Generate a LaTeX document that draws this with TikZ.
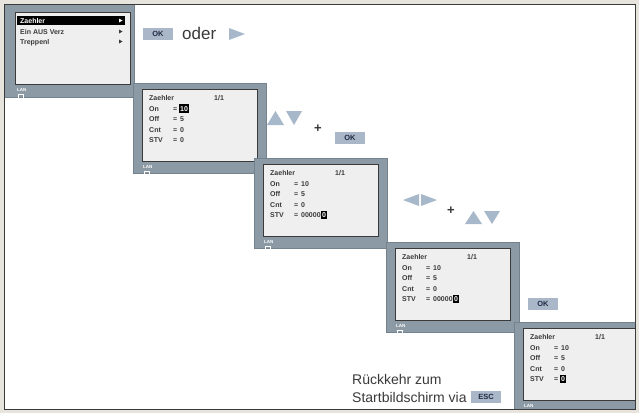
\documentclass[tikz,border=0pt]{standalone}
\usepackage{fontspec}
\setmainfont{Liberation Sans}
\usepackage{xcolor}
\usetikzlibrary{positioning}
\definecolor{Body}{HTML}{8C9AA5}
\definecolor{BodyEdge}{HTML}{75838E}
\definecolor{Lcd}{HTML}{EFEFEF}
\definecolor{LcdEdge}{HTML}{3A3A3A}
\definecolor{Key}{HTML}{A9B7C8}
\definecolor{KeyText}{HTML}{1E2B45}
\definecolor{ArrowKey}{HTML}{A8B8CB}
\definecolor{Ink}{HTML}{3A3A3A}
\definecolor{Margin}{HTML}{E6E4DC}

\begin{document}
\begin{tikzpicture}[x=1pt,y=-1pt,
  body/.style={draw=BodyEdge,fill=Body,line width=0.8pt,anchor=north west,
    minimum width=133pt,minimum height=90pt,inner sep=0pt},
  lcd/.style={draw=LcdEdge,fill=Lcd,line width=1.2pt,anchor=north west,
    minimum width=115pt,minimum height=72pt,inner sep=0pt},
  txt/.style={font=\fontsize{7}{8}\selectfont\bfseries,text=Ink,anchor=base west,inner sep=0pt},
  cursor/.style={txt,fill=black,text=white,inner xsep=1pt,inner ysep=1.8pt},
  lan/.style={font=\fontsize{4.5}{5}\selectfont\bfseries,text=white,anchor=west,inner sep=0pt},
  port/.style={draw=white,line width=0.6pt,minimum width=5pt,minimum height=4pt,
    inner sep=0pt,anchor=north west},
  keycap/.style={fill=Key,text=KeyText,font=\fontsize{7.5}{8}\selectfont\bfseries,
    minimum width=30pt,minimum height=12pt,inner sep=0pt},
  hint/.style={font=\fontsize{14}{17}\selectfont,text=Ink,anchor=west,inner sep=0pt},
  plus/.style={font=\fontsize{13}{13}\selectfont\bfseries,text=Ink,inner sep=0pt},
  arrowkey/.style={fill=ArrowKey}
]
\useasboundingbox (0,0) rectangle (639,413);
\fill[Margin] (0,0) rectangle (639,413);
\fill[white] (4,4) rectangle (635,409);

\begin{scope}
\clip (4,4) rectangle (635,409);
% Start screen with the menu.
\node[body,minimum width=140pt,minimum height=102pt] (body1) at (-6,-5) {};
\node[lcd] (lcd1) at (15,12) {};
\node[fill=black,minimum width=108pt,minimum height=9pt,inner sep=0pt,
  anchor=north west] (bar) at ([shift={(2,4)}]lcd1.north west) {};
\node[txt,text=white] (menu1) at ([shift={(5,11)}]lcd1.north west) {Zaehler};
\node[txt] (menu2) at ([shift={(5,22)}]lcd1.north west) {Ein AUS Verz};
\node[txt] (menu3) at ([shift={(5,32)}]lcd1.north west) {Treppenl};
\foreach \yy/\c in {8.5/white,19.5/Ink,29.5/Ink}
  \fill[\c] ([shift={(104,\yy-2)}]lcd1.north west) -- ++(3.5,2) -- ++(-3.5,2) -- cycle;
\node[lan] (lan1) at ([shift={(2,5)}]lcd1.south west) {LAN};
\node[port] (port1) at ([shift={(2.5,9)}]lcd1.south west) {};

% Counter screens, one step each.
\foreach \i/\x/\y in {2/133/83,3/254/158,4/386/242,5/514/322} {
  \node[body] (body\i) at (\x,\y) {};
  \node[lcd] (lcd\i) at ([shift={(9,6)}]body\i.north west) {};
  \node[txt] (head\i) at ([shift={(7,11.5)}]lcd\i.north west) {Zaehler};
  \node[txt] (page\i) at ([shift={(72,11.5)}]lcd\i.north west) {1/1};
  \foreach \row/\n/\yy in {on/On/22,off/Off/32.5,cnt/Cnt/43,stv/STV/53.5} {
    \node[txt] (\row\i) at ([shift={(7,\yy)}]lcd\i.north west) {\n};
    \node[txt] (eq\row\i) at ([shift={(31,\yy)}]lcd\i.north west) {=};
  }
  \node[txt] (voff\i) at ([shift={(38,32.5)}]lcd\i.north west) {5};
  \node[txt] (vcnt\i) at ([shift={(38,43)}]lcd\i.north west) {0};
  \node[lan] (lan\i) at ([shift={(1,5)}]lcd\i.south west) {LAN};
  \node[port] (port\i) at ([shift={(1.5,9)}]lcd\i.south west) {};
}
% edited values
\node[cursor] (von2) at ([shift={(37,22)}]lcd2.north west) {10};
\node[txt] (vstv2) at ([shift={(38,53.5)}]lcd2.north west) {0};
\foreach \i in {3,4} {
  \node[txt] (von\i) at ([shift={(38,22)}]lcd\i.north west) {10};
  \node[txt] (vstv\i) at ([shift={(38,53.5)}]lcd\i.north west) {00000};
  \node[cursor,anchor=base west] (cur\i) at (vstv\i.base east) {0};
}
\node[txt] (von5) at ([shift={(38,22)}]lcd5.north west) {10};
\node[cursor] (vstv5) at ([shift={(37,53.5)}]lcd5.north west) {0};
\end{scope}
\draw[Ink,line width=1pt] (4,4) rectangle (635,409);

% Keys between the steps.
\node[keycap] (ok1) at (158,33.5) {OK};
\node[hint,font=\fontsize{17}{20}\selectfont] (oder) at (182,33) {oder};
\foreach \ax/\ay/\bx/\by/\cx/\cy in {229/28/229/40/245/34,
    267/125/284/125/275.5/111,286/111/302/111/294/125,
    403/200/419/194/419/206,421/194/421/206/437/200,
    465/224/482/224/473.5/211,484/211/500/211/492/224}
  \fill[arrowkey] (\ax,\ay) -- (\bx,\by) -- (\cx,\cy) -- cycle;
\node[plus] (plus1) at (318,129) {+};
\node[keycap] (ok2) at (350,138) {OK};
\node[plus] (plus2) at (451,211) {+};
\node[keycap] (ok3) at (543,304) {OK};

% Way back to the start screen.
\node[hint] (back1) at (352,379) {Rückkehr zum};
\node[hint] (back2) at (352,397) {Startbildschirm via};
\node[keycap,right=4pt of back2] (esc) {ESC};
\end{tikzpicture}
\end{document}
